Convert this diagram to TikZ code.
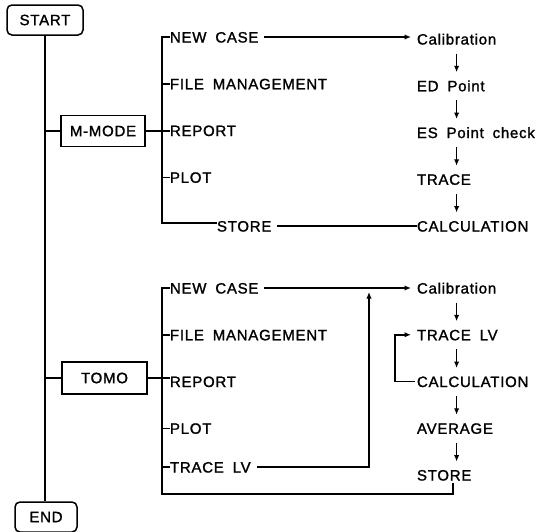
\documentclass[tikz,border=0pt]{standalone}
\usepackage{fontspec}
\setmainfont{Liberation Sans}[LetterSpace=5,WordSpace=1.8,FakeBold=1.4]
\usetikzlibrary{arrows.meta, positioning}

\begin{document}
\begin{tikzpicture}[
  x=1pt, y=-1pt,
  font=\fontsize{15}{18}\selectfont,
  line width=1.5pt,
  node distance=35.75pt,
  item/.style={anchor=west, inner sep=0pt, outer sep=0pt, text height=11pt, text depth=0pt},
  under/.style={below=of #1.south west, anchor=north west},
  termbox/.style={draw, rounded corners=5pt, minimum height=30pt},
  modebox/.style={draw, minimum width=84pt, minimum height=31pt},
  arr/.style={-{Latex[length=6.5pt,width=5.5pt]}},
  down/.style={arr, shorten <=9pt, shorten >=8pt}
]
  \useasboundingbox (0,0) rectangle (539,531);

  % main line
  \node[termbox, minimum width=76pt] (start) at (45,20) {START};
  \node[termbox, minimum width=62pt] (end) at (46,517) {END};
  \draw (start) -- (start |- end.north);

  % M-MODE branch
  \node[modebox] (mmode) at (103,131) {M-MODE};
  \node[item] (mnew) at (170,37) {NEW CASE};
  \node[item, under=mnew] (mfile) {FILE MANAGEMENT};
  \node[item, under=mfile] (mrep) {REPORT};
  \node[item, under=mrep] (mplot) {PLOT};
  \node[item] (mstore) at (217,226) {STORE};

  \node[item] (mcal) at (417,39) {Calibration};
  \node[item, under=mcal] (med) {ED Point};
  \node[item, under=med] (mes) {ES Point check};
  \node[item, under=mes] (mtr) {TRACE};
  \node[item, under=mtr] (mcalc) {CALCULATION};

  \draw (mmode.west) -- (mmode.west -| start);
  \draw (mmode.east) -- (mmode.east -| mrep.west);
  \draw (mnew.west) -- ++(-8,0) |- ([yshift=3pt]mstore.west);
  \draw (mfile.west) -- ++(-8,0);
  \draw (mplot.west) -- ++(-8,0);
  \draw[arr, shorten <=6pt, shorten >=6pt] (mnew.east) -- (mcal.west |- mnew.east);
  \draw[shorten <=6pt] (mstore.east) -- (mstore.east -| mcalc.west);
  \draw[down] (mcal.south) -- (mcal.south |- med.north);
  \draw[down] (med.south -| mcal) -- (mes.north -| mcal);
  \draw[down] (mes.south -| mcal) -- (mtr.north -| mcal);
  \draw[down] (mtr.south -| mcal) -- (mcalc.north -| mcal);

  % TOMO branch
  \node[modebox, minimum width=85pt, minimum height=32pt] (tomo) at (104.5,378) {TOMO};
  \node[item] (tnew) at (170,288) {NEW CASE};
  \node[item, under=tnew] (tfile) {FILE MANAGEMENT};
  \node[item, under=tfile] (trep) {REPORT};
  \node[item, under=trep] (tplot) {PLOT};
  \node[item] (ttrl) at (170,467) {TRACE LV};

  \node[item] (tcal) at (417,288) {Calibration};
  \node[item, under=tcal] (ttr) {TRACE LV};
  \node[item, under=ttr] (tcalc) {CALCULATION};
  \node[item, under=tcalc] (tavg) {AVERAGE};
  \node[item, under=tavg] (tstore) {STORE};
  \coordinate (tjoin) at (369,292);
  \coordinate (tbottom) at (453,494);

  \draw (tomo.west) -- (tomo.west -| start);
  \draw (tomo.east) -- (tomo.east -| trep.west);
  \draw (tnew.west) -- ++(-8,0) |- (tbottom) -- ([yshift=-2pt]tbottom |- tstore.south);
  \draw (tfile.west) -- ++(-8,0);
  \draw (tplot.west) -- ++(-8,0);
  \draw (ttrl.west) -- ++(-8,0);
  \draw[arr, shorten <=6pt, shorten >=6pt] (tnew.east) -- (tcal.west);
  \draw[arr, shorten <=6pt] (ttrl.east) -| (tjoin);
  \draw[arr, shorten <=2pt, shorten >=6pt] (tcalc.west) -- ++(-22,0) |- (ttr.west);
  \draw[down] (tcal.south) -- (tcal.south |- ttr.north);
  \draw[down] (ttr.south -| tcal) -- (tcalc.north -| tcal);
  \draw[down] (tcalc.south -| tcal) -- (tavg.north -| tcal);
  \draw[down] (tavg.south -| tcal) -- (tstore.north -| tcal);
\end{tikzpicture}
\end{document}
